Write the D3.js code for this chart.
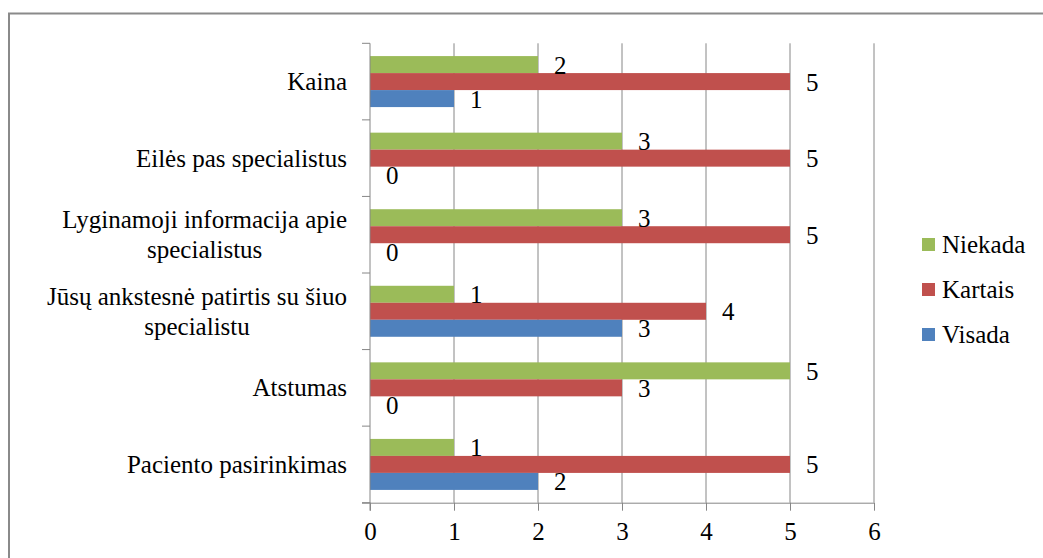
<!DOCTYPE html>
<html>
<head>
<meta charset="utf-8">
<script src="https://cdn.jsdelivr.net/npm/d3@7"></script>
</head>
<body style="margin:0">
<svg id="chart" width="1043" height="558"></svg>
<script>
// Survey reasons, listed top to bottom
const categories = [
  "Kaina",
  "Eilės pas specialistus",
  "Lyginamoji informacija apie specialistus",
  "Jūsų ankstesnė patirtis su šiuo specialistu",
  "Atstumas",
  "Paciento pasirinkimas"
];
// Wrapped label lines for each category
const categoryLines = [
  ["Kaina"],
  ["Eilės pas specialistus"],
  ["Lyginamoji informacija apie", "specialistus"],
  ["Jūsų ankstesnė patirtis su šiuo", "specialistu"],
  ["Atstumas"],
  ["Paciento pasirinkimas"]
];
const seriesNames = ["Niekada", "Kartais", "Visada"];
const niekada = [2, 3, 3, 1, 5, 1];
const kartais  = [5, 5, 5, 4, 3, 5];
const visada   = [1, 0, 0, 3, 0, 2];
const xTicks = [0, 1, 2, 3, 4, 5, 6];
const colors = ["#9BBB59", "#C0504D", "#4F81BD"];

const seriesValues = [niekada, kartais, visada];
const FONT = 25;
const FAMILY = `"Liberation Serif"`;
const gridColor = "#868686";

function styleText(sel) {
  return sel.style("font-family", FAMILY).attr("font-size", FONT).attr("fill", "#000");
}

function draw() {
  const svg = d3.select("#chart");

  // Outer chart frame
  svg.append("rect")
    .attr("x", 9).attr("y", 13.5)
    .attr("width", 1100).attr("height", 600)
    .attr("fill", "none").attr("stroke", "#8a8a8a").attr("stroke-width", 2);

  const plot = { left: 370, right: 874, top: 43.3, bottom: 502.7 };

  const x = d3.scaleLinear().domain([0, 6]).range([plot.left, plot.right]);
  const y = d3.scaleBand().domain(categories).range([plot.top, plot.bottom]);
  const band = y.bandwidth();
  const barH = band * 0.222;
  const groupPad = (band - 3 * barH) / 2;

  // Vertical gridlines
  svg.append("g").selectAll("line")
    .data(xTicks.filter(t => t > 0))
    .join("line")
    .attr("x1", d => x(d)).attr("x2", d => x(d))
    .attr("y1", plot.top).attr("y2", plot.bottom)
    .attr("stroke", gridColor).attr("stroke-width", 1);

  // Bars
  const rows = [];
  categories.forEach((c, i) => {
    seriesValues.forEach((vals, s) => {
      rows.push({ cat: c, s, v: vals[i] });
    });
  });

  svg.append("g").selectAll("rect")
    .data(rows.filter(d => d.v > 0))
    .join("rect")
    .attr("x", x(0))
    .attr("y", d => y(d.cat) + groupPad + d.s * barH)
    .attr("width", d => x(d.v) - x(0))
    .attr("height", barH)
    .attr("fill", d => colors[d.s]);

  // Value labels
  svg.append("g").selectAll("text")
    .data(rows)
    .join("text")
    .attr("x", d => x(d.v) + 16)
    .attr("y", d => y(d.cat) + groupPad + d.s * barH + barH / 2 + 9)
    .call(styleText)
    .text(d => d.v);

  // Bottom axis
  const xAxis = d3.axisBottom(x).tickValues(xTicks).tickSize(8).tickPadding(12).tickFormat(d3.format("d"));
  const gx = svg.append("g").attr("transform", `translate(0,${plot.bottom})`).call(xAxis);
  gx.attr("font-family", null).attr("font-size", null);
  gx.select(".domain").attr("stroke", gridColor).attr("d", `M${plot.left - 8},0.5H${plot.right}`);
  gx.selectAll(".tick line").attr("stroke", gridColor);
  gx.selectAll(".tick text").call(styleText);

  // Left axis line with band-boundary ticks
  svg.append("line")
    .attr("x1", plot.left).attr("x2", plot.left)
    .attr("y1", plot.top).attr("y2", plot.bottom + 8)
    .attr("stroke", gridColor).attr("stroke-width", 1);
  const boundaries = categories.map(c => y(c)).concat([plot.bottom]);
  svg.append("g").selectAll("line")
    .data(boundaries)
    .join("line")
    .attr("x1", plot.left - 8).attr("x2", plot.left)
    .attr("y1", d => d).attr("y2", d => d)
    .attr("stroke", gridColor).attr("stroke-width", 1);

  // Category labels: one line right-aligned, wrapped lines centred on the longest line
  const labelRight = 347;
  const lineGap = 30;
  categories.forEach((c, i) => {
    const lines = categoryLines[i];
    const cy = y(c) + band / 2;
    const g = svg.append("g");
    const texts = lines.map((ln, k) => g.append("text")
      .call(styleText)
      .attr("y", cy + (k - (lines.length - 1) / 2) * lineGap + 8.5)
      .text(ln));
    if (lines.length === 1) {
      texts[0].attr("x", labelRight).attr("text-anchor", "end");
    } else {
      const maxW = d3.max(texts, t => t.node().getComputedTextLength());
      texts.forEach(t => t.attr("x", labelRight - maxW / 2).attr("text-anchor", "middle"));
    }
  });

  // Legend
  const legend = svg.append("g");
  seriesNames.forEach((name, s) => {
    const cy = 244.5 + s * 45;
    legend.append("rect")
      .attr("x", 922).attr("y", cy - 6.5)
      .attr("width", 13).attr("height", 13)
      .attr("fill", colors[s]);
    legend.append("text")
      .attr("x", 942).attr("y", cy + 8.5)
      .call(styleText)
      .text(name);
  });
}

// Draw once the serif face is ready so label measurements use it
if (document.fonts && document.fonts.load) {
  document.fonts.load(`${FONT}px ${FAMILY}`, "Kaina Eilės").then(draw, draw);
} else {
  draw();
}
</script>
</body>
</html>
